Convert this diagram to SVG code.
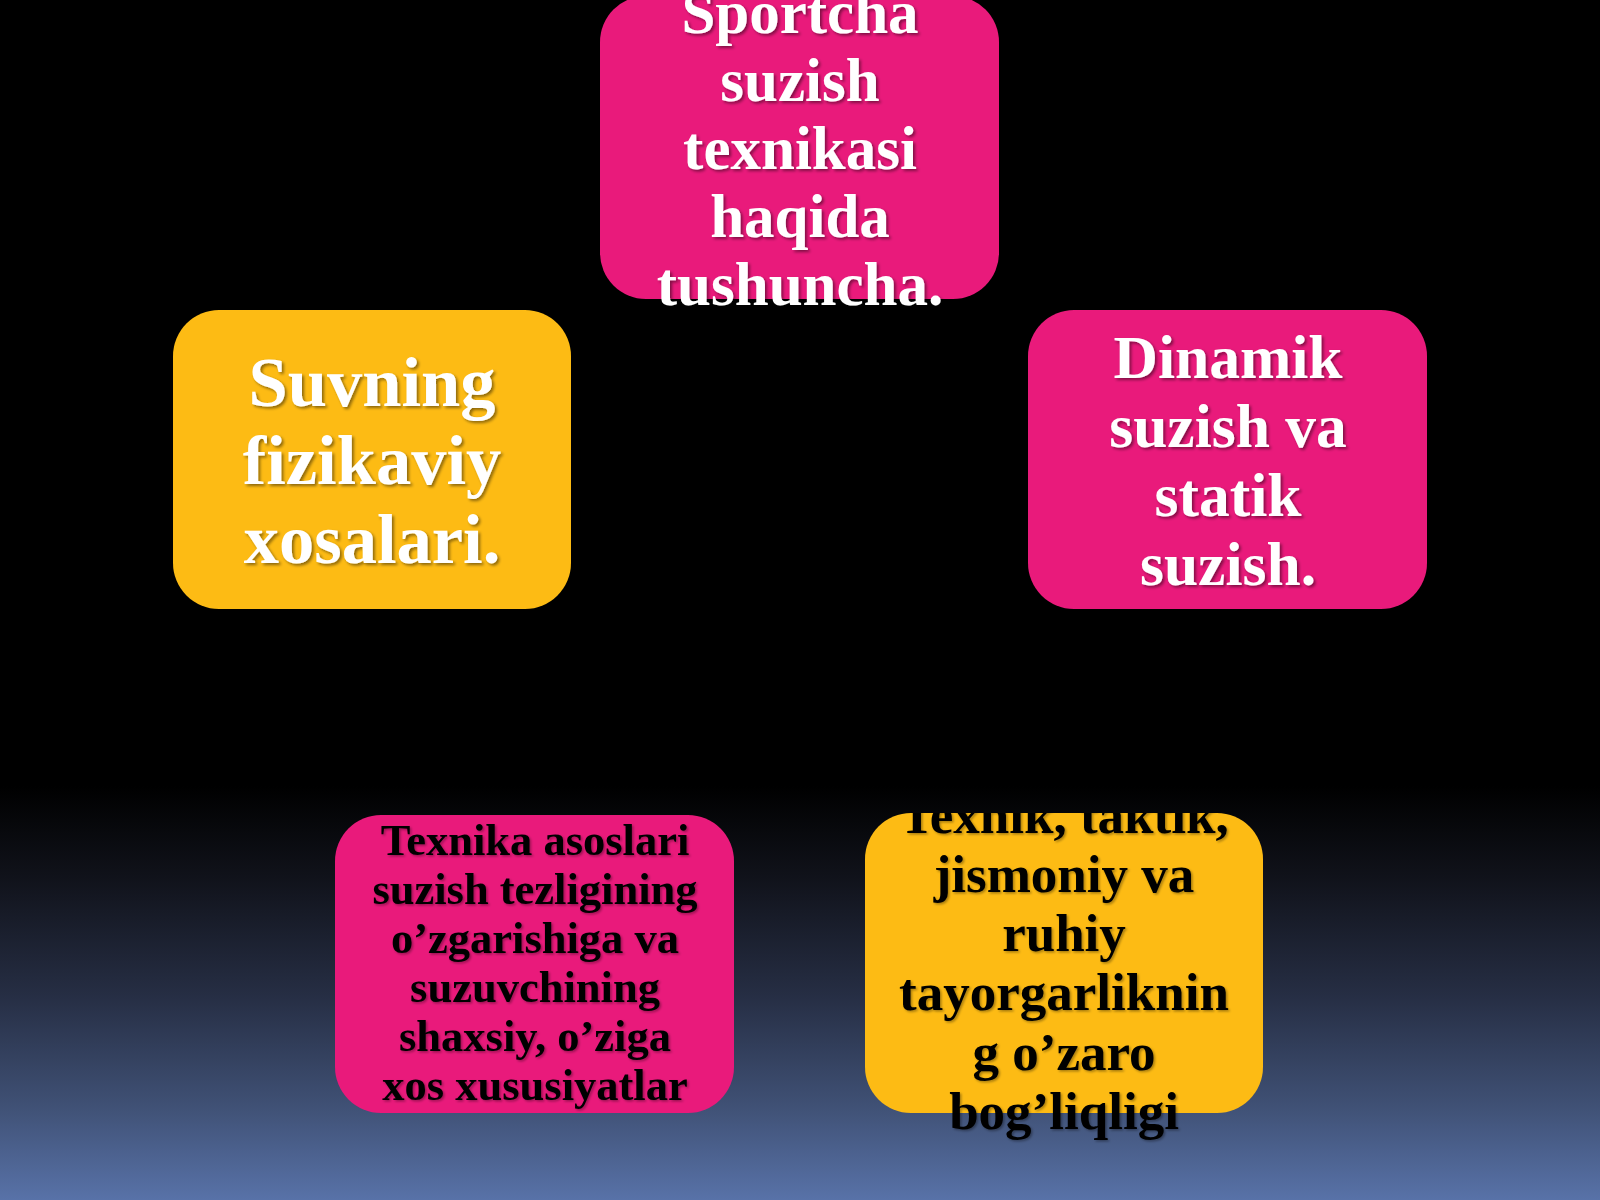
<svg xmlns="http://www.w3.org/2000/svg" width="1600" height="1200" viewBox="0 0 1600 1200">
  <defs>
    <linearGradient id="bg" x1="0" y1="0" x2="0" y2="1">
      <stop offset="0" stop-color="#000000"/>
      <stop offset="0.655" stop-color="#000000"/>
      <stop offset="0.73" stop-color="#10121a"/>
      <stop offset="0.83" stop-color="#262e44"/>
      <stop offset="0.92" stop-color="#3f5074"/>
      <stop offset="1" stop-color="#5872a8"/>
    </linearGradient>
    <filter id="sh" x="-10%" y="-10%" width="120%" height="130%">
      <feDropShadow dx="2" dy="2" stdDeviation="1.5" flood-color="#000" flood-opacity="0.45"/>
    </filter>
    <filter id="shd" x="-10%" y="-10%" width="120%" height="130%">
      <feDropShadow dx="1.5" dy="1.5" stdDeviation="1.2" flood-color="#000" flood-opacity="0.35"/>
    </filter>
    <clipPath id="clipBR">
      <rect x="0" y="813" width="1600" height="387"/>
    </clipPath>
    <style>
      .pink { fill: #E91A7B; }
      .yellow { fill: #FDBB14; }
      .t { font-family: "Liberation Serif", "Times New Roman", serif; font-weight: bold; text-anchor: middle; }
      .w { fill: #ffffff; filter: url(#sh); }
      .k { fill: #000000; filter: url(#shd); }
    </style>
  </defs>

  <rect x="0" y="0" width="1600" height="1200" fill="url(#bg)"/>

  <g id="connectors"></g>

  <g id="node-top">
    <rect class="pink" x="600" y="-4" width="399" height="303" rx="46" ry="46"/>
    <text class="t w" font-size="61"><tspan x="800" y="33">Sportcha</tspan><tspan x="800" y="101">suzish</tspan><tspan x="800" y="169">texnikasi</tspan><tspan x="800" y="237">haqida</tspan><tspan x="800" y="305">tushuncha.</tspan></text>
  </g>

  <g id="node-left">
    <rect class="yellow" x="173" y="310" width="398" height="299" rx="46" ry="46"/>
    <text class="t w" font-size="70.5"><tspan x="372" y="406">Suvning</tspan><tspan x="372" y="484">fizikaviy</tspan><tspan x="372" y="563">xosalari.</tspan></text>
  </g>

  <g id="node-right">
    <rect class="pink" x="1028" y="310" width="399" height="299" rx="46" ry="46"/>
    <text class="t w" font-size="61.5"><tspan x="1228" y="378">Dinamik</tspan><tspan x="1228" y="447">suzish va</tspan><tspan x="1228" y="516">statik</tspan><tspan x="1228" y="585">suzish.</tspan></text>
  </g>

  <g id="node-bottom-left">
    <rect class="pink" x="335" y="815" width="399" height="298" rx="46" ry="46"/>
    <text class="t k" font-size="44.5"><tspan x="535" y="855">Texnika asoslari</tspan><tspan x="535" y="904">suzish tezligining</tspan><tspan x="535" y="953">o’zgarishiga va</tspan><tspan x="535" y="1002">suzuvchining</tspan><tspan x="535" y="1051">shaxsiy, o’ziga</tspan><tspan x="535" y="1100">xos xususiyatlar</tspan></text>
  </g>

  <g id="node-bottom-right">
    <rect class="yellow" x="865" y="813" width="398" height="300" rx="46" ry="46"/>
    <g clip-path="url(#clipBR)">
      <text class="t k" font-size="53"><tspan x="1064" y="833">Texnik, taktik,</tspan><tspan x="1064" y="892">jismoniy va</tspan><tspan x="1064" y="951">ruhiy</tspan><tspan x="1064" y="1010">tayorgarliknin</tspan><tspan x="1064" y="1070">g o’zaro</tspan><tspan x="1064" y="1129">bog’liqligi</tspan></text>
    </g>
  </g>
</svg>
